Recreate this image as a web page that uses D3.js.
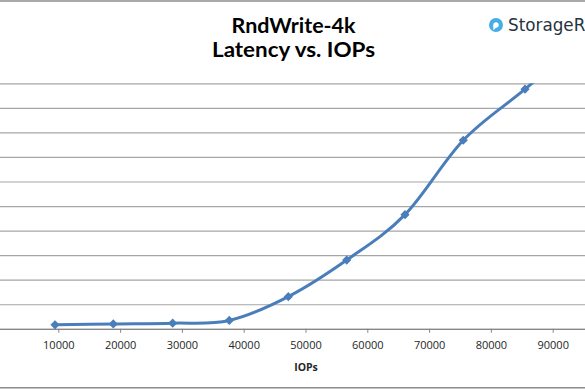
<!DOCTYPE html>
<html>
<head>
<meta charset="utf-8">
<script src="https://cdn.jsdelivr.net/npm/d3@7"></script>
<style>
  body { margin: 0; background: #fff; }
  svg { display: block; }
</style>
</head>
<body>
<div id="chart"></div>
<script>
// data
const iops = [9470, 18900, 28510, 37670, 47220, 56670, 66100, 75530, 85520, 95000];
const latency = [0.16, 0.20, 0.23, 0.34, 1.31, 2.80, 4.65, 7.68, 9.76, 11.8];
const xTicks = [0, 10000, 20000, 30000, 40000, 50000, 60000, 70000, 80000, 90000];
const yTicks = [0, 1, 2, 3, 4, 5, 6, 7, 8, 9, 10];
const titleLines = ["RndWrite-4k", "Latency vs. IOPs"];
const xTitle = "IOPs";

const points = iops.map((v, i) => ({iops: v, lat: latency[i]}));

/*******************************/
/*    Declare the constants    */
/*******************************/
const width = 585;
const height = 390;
const plot = {left: -3.5, right: 614.5, top: 83.3, bottom: 328.8};

const svg = d3.select("#chart")
  .append("svg")
    .attr("width", width)
    .attr("height", height)
    .attr("viewBox", `0 0 ${width} ${height}`);

/****************************/
/*    Declare the scales    */
/****************************/
const xScale = d3.scaleLinear()
  .domain([0, 100000])
  .range([plot.left, plot.right]);

const yScale = d3.scaleLinear()
  .domain([0, 10])
  .range([plot.bottom, plot.top]);

// frame lines of the chart area
svg.append("line")
  .attr("x1", 0).attr("x2", width)
  .attr("y1", 1).attr("y2", 1)
  .attr("stroke", "#8c8c8c")
  .attr("stroke-width", 1.5);
svg.append("line")
  .attr("x1", 0).attr("x2", width)
  .attr("y1", 387.7).attr("y2", 387.7)
  .attr("stroke", "#8c8c8c")
  .attr("stroke-width", 1.5);

/**************************/
/*      Gridlines         */
/**************************/
const leftAxis = d3.axisLeft(yScale)
  .tickValues(yTicks)
  .tickSize(-(plot.right - plot.left))
  .tickFormat("");
const gridG = svg.append("g")
  .attr("transform", `translate(${plot.left}, 0)`)
  .call(leftAxis);
gridG.select(".domain").remove();
gridG.selectAll(".tick line")
  .attr("stroke", "#a6a6a6")
  .attr("stroke-width", 1.2);

/**************************/
/*      X axis            */
/**************************/
const bottomAxis = d3.axisBottom(xScale)
  .tickValues(xTicks)
  .tickSize(4)
  .tickSizeOuter(0)
  .tickPadding(8)
  .tickFormat(d3.format("d"));
const xAxisG = svg.append("g")
  .attr("transform", `translate(0, ${plot.bottom})`)
  .call(bottomAxis);
xAxisG.select(".domain")
  .attr("stroke", "#868686")
  .attr("stroke-width", 1.2);
xAxisG.selectAll(".tick line")
  .attr("stroke", "#868686");
xAxisG.selectAll(".tick text")
  .attr("fill", "#262626")
  .style("font-family", "'Open Sans', sans-serif")
  .style("font-size", "11px");

svg.append("text")
  .attr("x", 306)
  .attr("y", 371)
  .attr("text-anchor", "middle")
  .attr("fill", "#262626")
  .style("font-family", "'Open Sans', sans-serif")
  .style("font-weight", "bold")
  .style("font-size", "10.5px")
  .text(xTitle);

/**************************/
/*      Series            */
/**************************/
svg.append("clipPath")
  .attr("id", "plot-clip")
  .append("rect")
    .attr("x", plot.left)
    .attr("y", plot.top)
    .attr("width", plot.right - plot.left)
    .attr("height", plot.bottom - plot.top + 6);

const lineGenerator = d3.line()
  .x(d => xScale(d.iops))
  .y(d => yScale(d.lat))
  .curve(d3.curveCatmullRom.alpha(0));

const seriesG = svg.append("g")
  .attr("clip-path", "url(#plot-clip)");

seriesG.append("path")
  .attr("d", lineGenerator(points))
  .attr("fill", "none")
  .attr("stroke", "#4a7ebb")
  .attr("stroke-width", 3)
  .attr("stroke-linejoin", "round");

seriesG.selectAll(".marker")
  .data(points)
  .join("path")
    .attr("class", "marker")
    .attr("d", d3.symbol(d3.symbolSquare, 42))
    .attr("transform", d => `translate(${xScale(d.iops)}, ${yScale(d.lat)}) rotate(45)`)
    .attr("fill", "#4a7ebb");

/**************************/
/*      Title             */
/**************************/
const titleY = [32.7, 56.8];
const titleW = [124, 163];
titleLines.forEach((t, i) => {
  svg.append("text")
    .attr("x", 293.5)
    .attr("y", titleY[i])
    .attr("text-anchor", "middle")
    .attr("textLength", titleW[i])
    .attr("lengthAdjust", "spacingAndGlyphs")
    .attr("fill", "#000")
    .style("font-family", "Lato, sans-serif")
    .style("font-weight", "bold")
    .style("font-size", "21px")
    .text(t);
});

// logo
const logo = svg.append("g").attr("transform", "translate(496, 25)");
logo.append("circle").attr("r", 7).attr("fill", "#45aee4");
logo.append("circle").attr("r", 2.7).attr("fill", "#fff");
logo.append("path")
  .attr("d", "M-2.7,0 L-2.7,5.2 L0,2.7 Z")
  .attr("fill", "#fff");
svg.append("text")
  .attr("x", 508)
  .attr("y", 31)
  .attr("fill", "#27333f")
  .style("font-family", "'DejaVu Sans', sans-serif")
  .style("font-size", "16.8px")
  .text("StorageReview");
</script>
</body>
</html>
